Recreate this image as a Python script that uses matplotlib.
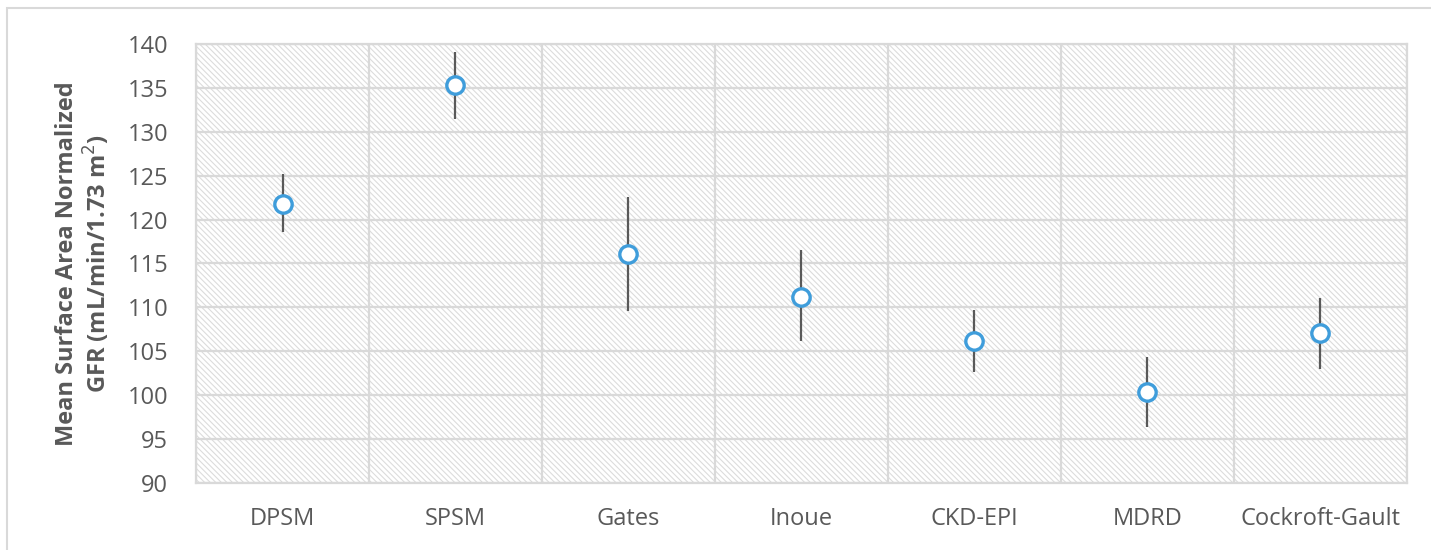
import numpy as np
import matplotlib.pyplot as plt
from matplotlib.patches import Rectangle

methods = ['DPSM', 'SPSM', 'Gates', 'Inoue', 'CKD-EPI', 'MDRD', 'Cockroft-Gault']
gfr_mean = [121.8, 135.3, 116.1, 111.2, 106.2, 100.3, 107.1]
gfr_low = [118.6, 131.5, 109.6, 106.2, 102.6, 96.4, 103.0]
gfr_high = [125.2, 139.1, 122.6, 116.5, 109.7, 104.3, 111.1]

plt.rcParams['font.family'] = ['Open Sans', 'DejaVu Sans']
plt.rcParams['hatch.linewidth'] = 0.8

fig = plt.figure(figsize=(14.31, 5.5), dpi=100)
ax = fig.add_axes([0.137, 0.122, 0.846, 0.798])

x = np.arange(len(methods))
mean = np.array(gfr_mean)
yerr = [mean - np.array(gfr_low), np.array(gfr_high) - mean]

ax.set_xlim(-0.5, len(methods) - 0.5)
ax.set_ylim(90, 140)

# hatched background
ax.add_patch(Rectangle((0, 0), 1, 1, transform=ax.transAxes, facecolor='white',
                       edgecolor='#dcdcdc', linewidth=0, hatch='\\\\\\\\\\\\', zorder=0))

ax.errorbar(x, mean, yerr=yerr, fmt='none', ecolor='#595959', elinewidth=1.6,
            capsize=0, zorder=3)
ax.plot(x, mean, 'o', markersize=12.5, markerfacecolor='white',
        markeredgecolor='#3f9ddb', markeredgewidth=2.4, zorder=4)

ax.set_yticks(np.arange(90, 141, 5))
ax.set_xticks(x)
ax.set_xticklabels(methods)
ax.set_xticks(np.arange(-0.5, len(methods), 1), minor=True)
ax.grid(axis='y', which='major', color='#d9d9d9', linewidth=1.6, zorder=1)
ax.grid(axis='x', which='minor', color='#d9d9d9', linewidth=1.6, zorder=1)
ax.set_axisbelow(True)
ax.tick_params(axis='both', which='both', length=0, labelsize=17, colors='#595959')
ax.tick_params(axis='x', pad=17)
ax.tick_params(axis='y', pad=20)
for s in ax.spines.values():
    s.set_color('#d9d9d9')
    s.set_linewidth(1.6)

ax.set_ylabel('Mean Surface Area Normalized\nGFR (mL/min/1.73 m$^2$)', fontsize=17,
              fontweight='bold', color='#595959', linespacing=1.15)
ax.yaxis.set_label_coords(-0.069, 0.5)

# outer chart border
fig.add_artist(Rectangle((7 / 1431, -0.05), 1.1, 1 - 8 / 550 + 0.05, transform=fig.transFigure,
                         facecolor='none', edgecolor='#d9d9d9', linewidth=1.5))

fig.savefig('out.png', dpi=100)
